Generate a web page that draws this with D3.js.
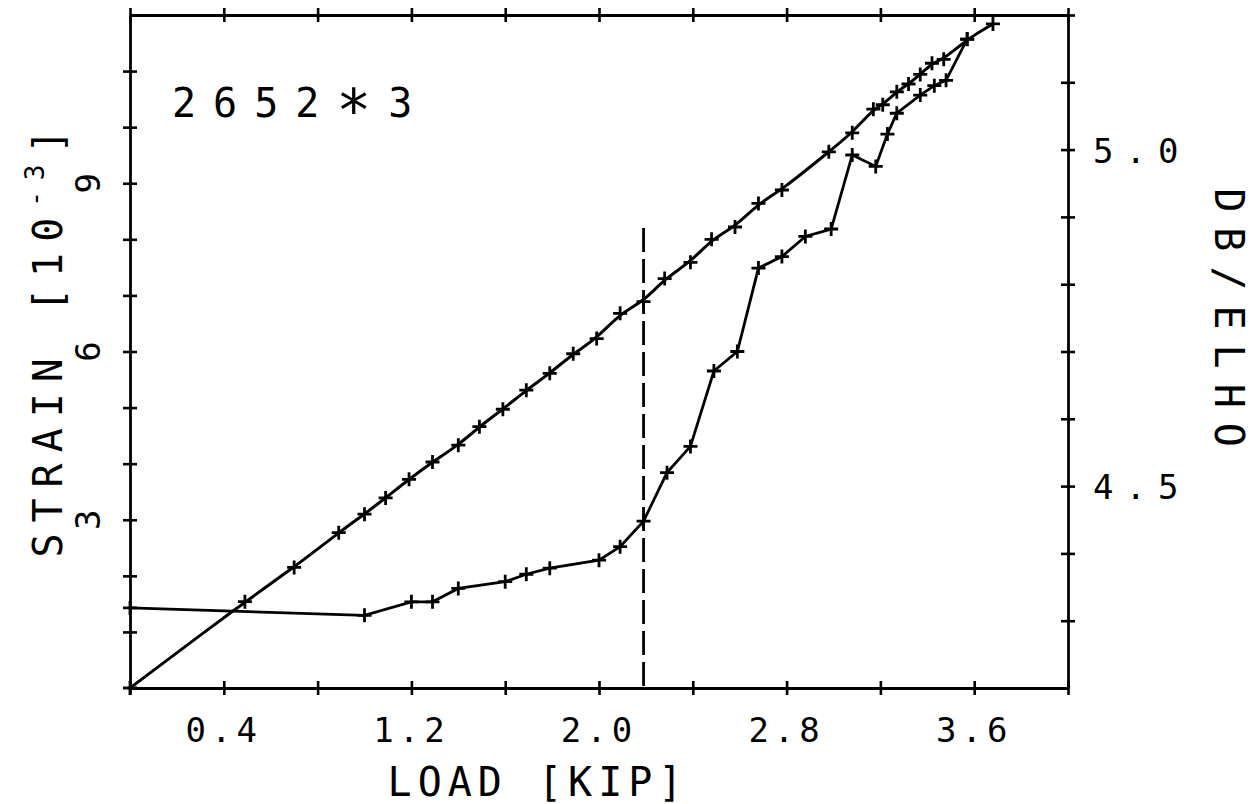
<!DOCTYPE html>
<html>
<head>
<meta charset="utf-8">
<script src="https://cdn.jsdelivr.net/npm/d3@7"></script>
<style>
	body { margin: 0; background: #fff; }
	text { font-family: "DejaVu Sans Mono", "Liberation Mono", monospace; fill: #000; }
</style>
</head>
<body>
<div id="chart"></div>
<script>
// strain curve (left axis)
const loadStrain = [0, 0.49, 0.70, 0.89, 1.00, 1.09, 1.19, 1.29, 1.40, 1.49, 1.59, 1.69, 1.79, 1.89, 1.99, 2.09, 2.19,
	2.28, 2.39, 2.48, 2.58, 2.68, 2.78, 2.98, 3.08, 3.17, 3.21, 3.27, 3.32, 3.37, 3.42, 3.47, 3.57, 3.68];
const strain = [0, 1.54, 2.15, 2.77, 3.10, 3.39, 3.72, 4.03, 4.33, 4.66, 4.97, 5.31, 5.61, 5.96, 6.23, 6.68, 6.89,
	7.30, 7.59, 8.00, 8.22, 8.64, 8.88, 9.56, 9.90, 10.32, 10.40, 10.63, 10.77, 10.94, 11.14, 11.21, 11.57, 11.84];

// DB/ELHO curve (right axis)
const loadDb = [0, 1.00, 1.20, 1.29, 1.40, 1.60, 1.69, 1.79, 2.00, 2.09, 2.19, 2.29, 2.39, 2.49, 2.59, 2.68, 2.78,
	2.88, 2.99, 3.08, 3.18, 3.23, 3.27, 3.37, 3.43, 3.48, 3.57];
const dbElho = [4.319, 4.308, 4.328, 4.328, 4.348, 4.358, 4.369, 4.378, 4.390, 4.410, 4.448, 4.520, 4.559, 4.671, 4.700, 4.824, 4.841,
	4.871, 4.882, 4.992, 4.975, 5.023, 5.054, 5.081, 5.095, 5.103, 5.164];

const xTickValues = [0, 0.4, 0.8, 1.2, 1.6, 2.0, 2.4, 2.8, 3.2, 3.6, 4.0];
const xTickLabels = [0.4, 1.2, 2.0, 2.8, 3.6];
const strainTickLabels = [3, 6, 9];
const dbTickLabels = [4.5, 5.0];
const markLoad = 2.19;
const markStrainTop = 8.2;
const sampleName = ["2652", "*", "3"];

const width = 1254, height = 804;
const mLeft = 130, mRight = 1068, mTop = 15, mBottom = 688;

let svg = d3.select("#chart").append("svg").attr("width", width).attr("height", height);

let x = d3.scaleLinear().domain([0, 4.0]).range([mLeft, mRight]);
let yL = d3.scaleLinear().domain([0, 12]).range([mBottom, mTop]);
let yR = d3.scaleLinear().domain([4.2, 5.2]).range([mBottom, mTop]);

/*
* Axes: frame plus crossing ticks, labels drawn by hand below
*/
function crossTicks(g, horizontal) {
	g.select(".domain").attr("stroke-width", 2.8);
	g.selectAll(".tick line").attr("stroke-width", 2.6);
	if (horizontal) g.selectAll(".tick line").attr("y1", -7).attr("y2", 7);
	else g.selectAll(".tick line").attr("x1", -7).attr("x2", 7);
	g.selectAll(".tick text").remove();
}

svg.append("g").attr("transform", "translate(0," + mBottom + ")")
	.call(d3.axisBottom(x).tickValues(xTickValues).tickSizeOuter(0))
	.call(g => crossTicks(g, true));
svg.append("g").attr("transform", "translate(0," + mTop + ")")
	.call(d3.axisTop(x).tickValues(xTickValues).tickSizeOuter(0))
	.call(g => crossTicks(g, true));
svg.append("g").attr("transform", "translate(" + mLeft + ",0)")
	.call(d3.axisLeft(yL).tickValues(d3.range(1, 12)).tickSizeOuter(0))
	.call(g => crossTicks(g, false));
svg.append("g").attr("transform", "translate(" + mRight + ",0)")
	.call(d3.axisRight(yR).tickValues(d3.range(4.3, 5.2, 0.1)).tickSizeOuter(0))
	.call(g => crossTicks(g, false));

// tick labels
svg.selectAll(".xlab").data(xTickLabels).enter().append("text")
	.attr("x", d => x(d)).attr("y", 742)
	.attr("text-anchor", "middle").attr("font-size", 34).attr("letter-spacing", 5)
	.text(d => d.toFixed(1));

svg.selectAll(".ylab").data(strainTickLabels).enter().append("text")
	.attr("transform", d => "translate(100," + yL(d) + ") rotate(-90)")
	.attr("text-anchor", "middle").attr("font-size", 34)
	.text(d => d);

svg.selectAll(".rlab").data(dbTickLabels).enter().append("text")
	.attr("x", 1093).attr("y", d => yR(d) + 13)
	.attr("font-size", 34).attr("letter-spacing", 12)
	.text(d => d.toFixed(1));

// axis titles
svg.append("text").attr("x", 538).attr("y", 796)
	.attr("text-anchor", "middle").attr("font-size", 40).attr("letter-spacing", 6)
	.text("LOAD [KIP]");

let yTitle = svg.append("text").attr("transform", "translate(62,338) rotate(-90)")
	.attr("text-anchor", "middle").attr("font-size", 40).attr("letter-spacing", 11);
yTitle.append("tspan").text("STRAIN [10");
yTitle.append("tspan").attr("dy", -18).attr("font-size", 26).text("-3");
yTitle.append("tspan").attr("dy", 18).text("]");

svg.append("text").attr("transform", "translate(1215,325) rotate(90)")
	.attr("text-anchor", "middle").attr("font-size", 40).attr("letter-spacing", 15)
	.text("DB/ELHO");

let nameText = svg.append("text").attr("x", 172).attr("y", 117)
	.attr("font-size", 40).attr("letter-spacing", 17);
nameText.append("tspan").text(sampleName[0]);
nameText.append("tspan").attr("font-size", 58).attr("dy", 14).text(sampleName[1]);
nameText.append("tspan").attr("dy", -14).text(sampleName[2]);

// dashed marker line
svg.append("line")
	.attr("x1", x(markLoad)).attr("x2", x(markLoad))
	.attr("y1", yL(markStrainTop)).attr("y2", yL(0))
	.attr("stroke", "#000").attr("stroke-width", 2.8).attr("stroke-dasharray", "24,7");

// data lines
let strainData = loadStrain.map((d, i) => [d, strain[i]]);
let dbData = loadDb.map((d, i) => [d, dbElho[i]]);

let lineL = d3.line().x(d => x(d[0])).y(d => yL(d[1])).curve(d3.curveBasis);
let lineR = d3.line().x(d => x(d[0])).y(d => yR(d[1]));

svg.append("path").datum(strainData).attr("d", lineL)
	.attr("fill", "none").attr("stroke", "#000").attr("stroke-width", 3);
svg.append("path").datum(dbData).attr("d", lineR)
	.attr("fill", "none").attr("stroke", "#000").attr("stroke-width", 2.8);

let plus = "M-7,0H7M0,-7V7";
svg.selectAll(".ms").data(strainData).enter().append("path")
	.attr("transform", d => "translate(" + x(d[0]) + "," + yL(d[1]) + ")")
	.attr("d", plus).attr("stroke", "#000").attr("stroke-width", 2.8);
svg.selectAll(".md").data(dbData).enter().append("path")
	.attr("transform", d => "translate(" + x(d[0]) + "," + yR(d[1]) + ")")
	.attr("d", plus).attr("stroke", "#000").attr("stroke-width", 2.8);
</script>
</body>
</html>
